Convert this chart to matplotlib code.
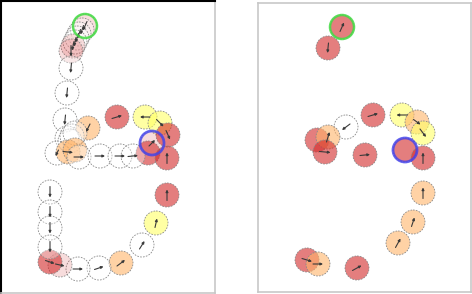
import matplotlib
matplotlib.use("Agg")
import matplotlib.pyplot as plt
from matplotlib.patches import Circle

# colours by kind
fills = {
    'w': ('white', 0.35),
    'p': ('#d22828', 0.16),   # pale pink
    'r': ('#d22828', 0.6),
    'o': ('#ffb46a', 0.6),    # peach
    'y': ('#ffff66', 0.6),
}

# ---- left panel (pixel positions) ----
left_x = [85, 82, 79, 77, 75, 73, 71, 71, 67, 65,
          88, 117, 145, 160, 168, 148, 167,
          67, 70, 72, 75, 57, 68, 75,
          79, 100, 120, 133, 152,
          167, 156, 142, 121, 99, 78, 60, 50,
          50, 50, 50, 50]
left_y = [26, 30, 34, 38, 42, 46, 51, 68, 93, 120,
          128, 117, 117, 123, 135, 153, 158,
          138, 141, 136, 133, 153, 152, 150,
          157, 156, 156, 156, 143,
          195, 223, 245, 263, 268, 269, 265, 262,
          192, 212, 228, 247]
left_kind = ['p', 'w', 'w', 'w', 'w', 'p', 'p', 'w', 'w', 'w',
             'o', 'r', 'y', 'y', 'r', 'r', 'r',
             'w', 'w', 'w', 'w', 'w', 'o', 'o',
             'w', 'w', 'w', 'w', 'p',
             'r', 'y', 'w', 'o', 'w', 'w', 'p', 'r',
             'w', 'w', 'w', 'w']
left_dx = [-4, -3, -3, -3, -2, -2, 0, -1, -1, -1,
           -4, 10, -10, 7, 4, 0, 0,
           0, 0, 0, 0, -3, 10, 0,
           10, 10, 10, 10, 6,
           0, 2, 5, 8, 9, 10, 9, 9,
           0, 0, 0, 0]
left_dy = [9, 9, 9, 9, 9, 9, 11, 10, 10, 10,
           8, -3, 0, 7, 9, 0, -11,
           0, 0, 0, 0, 6, 1, 0,
           0, 0, 0, -1, -6,
           -11, -9, -8, -6, -3, 0, 2, 3,
           11, 11, 11, 11]
left_start = 0   # green ring
left_goal = 28   # blue ring

# ---- right panel ----
right_x = [342, 328, 346, 373, 402, 417, 423, 317, 328, 325,
           365, 405, 423, 423, 413, 398, 307, 318, 357]
right_y = [27, 48, 127, 115, 115, 122, 133, 140, 137, 152,
           155, 150, 158, 193, 222, 243, 260, 264, 268]
right_kind = ['r', 'r', 'w', 'r', 'y', 'o', 'y', 'r', 'o', 'r',
              'r', 'r', 'r', 'o', 'o', 'o', 'r', 'o', 'r']
right_dx = [4, -1, -8, 10, -11, 7, 6, 0, 3, 11,
            10, 0, 0, 0, 3, 5, 10, 10, 9]
right_dy = [-9, 10, 6, -3, 0, 5, 8, 0, -10, 1,
            -1, 0, -11, -11, -9, -9, 3, 0, -5]
right_start = 0
right_goal = 11

R = 12


def draw_panel(ax, xs, ys, kinds, dxs, dys, start, goal):
    for i in range(len(xs)):
        c, a = fills[kinds[i]]
        ax.add_patch(Circle((xs[i], ys[i]), R, facecolor=c, alpha=a,
                            edgecolor='none', zorder=2 + i * 0.01))
        ax.add_patch(Circle((xs[i], ys[i]), R, facecolor='none',
                            edgecolor='#8a8a8a', lw=0.6,
                            linestyle=(0, (2, 1.5)), zorder=2 + i * 0.01))
        if dxs[i] != 0 or dys[i] != 0:
            ax.annotate('', xy=(xs[i] + dxs[i] / 2, ys[i] + dys[i] / 2),
                        xytext=(xs[i] - dxs[i] / 2, ys[i] - dys[i] / 2),
                        arrowprops=dict(arrowstyle='-|>', color='#3a3a3a',
                                        lw=0.8, mutation_scale=3.5,
                                        shrinkA=0, shrinkB=0),
                        zorder=3)
    ax.add_patch(Circle((xs[start], ys[start]), R, facecolor='none',
                        edgecolor='#44dd44', lw=1.8, alpha=0.85, zorder=5))
    ax.add_patch(Circle((xs[goal], ys[goal]), R, facecolor='none',
                        edgecolor='#4040ee', lw=2.0, alpha=0.8, zorder=5))
    ax.set_xticks([])
    ax.set_yticks([])


fig = plt.figure(figsize=(4.72, 2.94), dpi=100)
ax1 = fig.add_axes([1 / 472, 1 / 294, 214 / 472, 292 / 294])
ax1.set_xlim(1, 215)
ax1.set_ylim(293, 1)
draw_panel(ax1, left_x, left_y, left_kind, left_dx, left_dy, left_start, left_goal)
for s in ['left', 'top']:
    ax1.spines[s].set_color('black')
    ax1.spines[s].set_linewidth(1.5)
for s in ['right', 'bottom']:
    ax1.spines[s].set_color('#c8c8c8')
    ax1.spines[s].set_linewidth(1.2)

ax2 = fig.add_axes([258 / 472, 2 / 294, 213 / 472, 289 / 294])
ax2.set_xlim(258, 471)
ax2.set_ylim(292, 3)
draw_panel(ax2, right_x, right_y, right_kind, right_dx, right_dy, right_start, right_goal)
for s in ax2.spines.values():
    s.set_color('#c8c8c8')
    s.set_linewidth(1.2)

fig.savefig('out.png', dpi=100)
